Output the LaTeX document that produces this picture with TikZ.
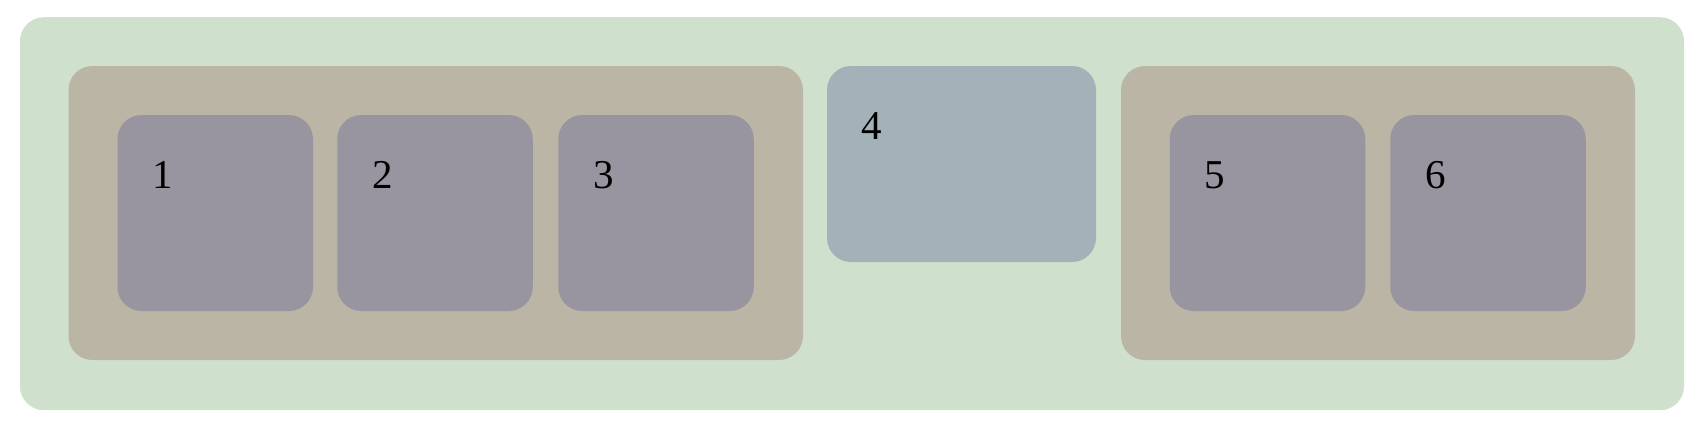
\documentclass[tikz,border=0pt]{standalone}
\usepackage{fontspec}
\setmainfont{Liberation Serif}
\definecolor{outerc}{RGB}{207,224,204}
\definecolor{groupc}{RGB}{187,181,165}
\definecolor{boxc}{RGB}{153,149,160}
\definecolor{bluec}{RGB}{163,177,184}
\tikzset{
  panel/.style={inner sep=0pt, outer sep=0pt, draw=none, rounded corners=#1},
  outerpanel/.style={panel=24pt, fill=outerc},
  grouppanel/.style={panel=24pt, fill=groupc},
  itembox/.style={panel=24pt, fill=boxc},
  bluebox/.style={panel=24pt, fill=bluec},
  lbl/.style={inner sep=0pt, font=\fontsize{41}{48}\selectfont, text=black}
}
\begin{document}
\begin{tikzpicture}[x=1pt,y=-1pt]
\useasboundingbox[fill=white] (0,0) rectangle (1706,426);
\node[outerpanel, minimum width=1664pt, minimum height=393pt] (outer) at (852,213.7) {};
\node[grouppanel, minimum width=734.5pt, minimum height=294pt] (gleft) at (435.75,213) {};
\node[grouppanel, minimum width=514pt, minimum height=294pt] (gright) at (1378,213) {};
\node[itembox, minimum width=195.5pt, minimum height=196pt] (b1) at (215.25,213) {};
\node[itembox, minimum width=195.5pt, minimum height=196pt] (b2) at (435,213) {};
\node[itembox, minimum width=195.5pt, minimum height=196pt] (b3) at (656,213) {};
\node[bluebox, minimum width=269pt, minimum height=196pt] (b4) at (961.5,164) {};
\node[itembox, minimum width=195.5pt, minimum height=196pt] (b5) at (1267.5,213) {};
\node[itembox, minimum width=195.5pt, minimum height=196pt] (b6) at (1488,213) {};
\foreach \b/\t in {b1/1,b2/2,b3/3,b4/4,b5/5,b6/6}{
  \node[lbl] (l\b) at ([xshift=45pt,yshift=-60pt]\b.north west) {\t};
}
\end{tikzpicture}
\end{document}
